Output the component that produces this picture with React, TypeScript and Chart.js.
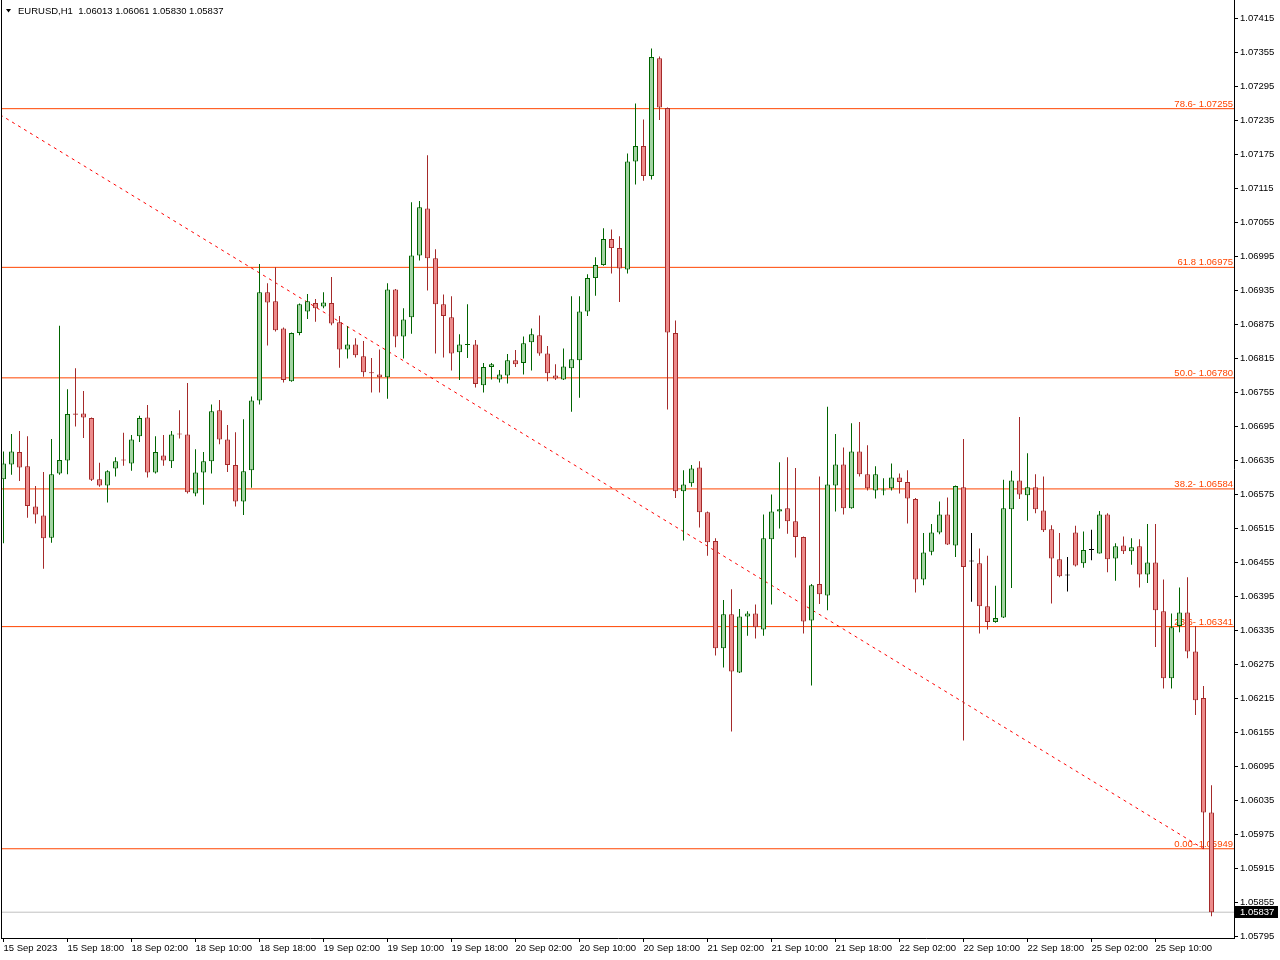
import React, { useEffect, useRef } from 'react';
import { Chart, registerables } from 'chart.js';

Chart.register(...registerables);

const symbol = 'EURUSD,H1';

const opens = [
  1.06601,1.06627,1.06649,1.06624,1.06553,1.06537,1.06498,1.06611,1.06634,1.06717,
  1.06717,1.06709,1.06601,1.06590,1.06620,1.06636,1.06629,1.06677,1.06710,1.06613,
  1.06643,1.06633,1.06681,1.06680,1.06576,1.06613,1.06633,1.06723,1.06671,1.06626,
  1.06562,1.06617,1.06740,1.06931,1.06915,1.06867,1.06774,1.06859,1.06897,1.06912,
  1.06906,1.06912,1.06878,1.06830,1.06839,1.06818,1.06790,1.06786,1.06781,1.06936,
  1.06853,1.06887,1.06996,1.07079,1.06991,1.06910,1.06887,1.06825,1.06838,1.06839,
  1.06767,1.06799,1.06777,1.06784,1.06811,1.06806,1.06843,1.06855,1.06823,1.06784,
  1.06777,1.06797,1.06811,1.06897,1.06956,1.06979,1.07025,1.07009,1.06971,1.07162,
  1.07189,1.07136,1.07344,1.07256,1.06859,1.06580,1.06594,1.06622,1.06543,1.06492,
  1.06303,1.06363,1.06260,1.06359,1.06364,1.06336,1.06495,1.06544,1.06550,1.06527,
  1.06499,1.06352,1.06416,1.06396,1.06590,1.06627,1.06550,1.06650,1.06610,1.06581,
  1.06581,1.06585,1.06604,1.06596,1.06566,1.06424,1.06473,1.06507,1.06539,1.06484,
  1.06587,1.06456,1.06453,1.06377,1.06349,1.06357,1.06548,1.06599,1.06573,1.06587,
  1.06546,1.06513,1.06460,1.06431,1.06507,1.06453,1.06476,1.06470,1.06539,1.06461,
  1.06484,1.06474,1.06483,1.06433,1.06454,1.06368,1.06250,1.06342,1.06366,1.06297,
  1.06215,1.06013,
];

const highs = [
  1.06650,1.06681,1.06686,1.06677,1.06589,1.06614,1.06672,1.06872,1.06760,1.06797,
  1.06757,1.06710,1.06630,1.06617,1.06640,1.06683,1.06679,1.06713,1.06732,1.06677,
  1.06679,1.06686,1.06723,1.06771,1.06654,1.06649,1.06733,1.06741,1.06697,1.06684,
  1.06707,1.06747,1.06981,1.06947,1.06975,1.06869,1.06860,1.06911,1.06928,1.06919,
  1.06931,1.06958,1.06889,1.06871,1.06850,1.06845,1.06815,1.06830,1.06947,1.06937,
  1.06903,1.07090,1.07092,1.07173,1.07007,1.06927,1.06924,1.06857,1.06910,1.06847,
  1.06806,1.06806,1.06794,1.06822,1.06829,1.06853,1.06867,1.06890,1.06836,1.06804,
  1.06832,1.06924,1.06924,1.06963,1.06993,1.07044,1.07042,1.07030,1.07176,1.07264,
  1.07236,1.07361,1.07347,1.07257,1.06881,1.06617,1.06626,1.06633,1.06544,1.06497,
  1.06388,1.06407,1.06372,1.06368,1.06380,1.06539,1.06574,1.06631,1.06640,1.06621,
  1.06500,1.06416,1.06606,1.06729,1.06681,1.06657,1.06700,1.06702,1.06661,1.06624,
  1.06603,1.06629,1.06611,1.06617,1.06568,1.06506,1.06522,1.06562,1.06569,1.06590,
  1.06672,1.06506,1.06479,1.06466,1.06413,1.06600,1.06616,1.06711,1.06647,1.06610,
  1.06606,1.06520,1.06506,1.06464,1.06519,1.06509,1.06512,1.06545,1.06541,1.06488,
  1.06500,1.06497,1.06495,1.06522,1.06522,1.06424,1.06364,1.06410,1.06428,1.06342,
  1.06236,1.06061,
];

const lows = [
  1.06488,1.06609,1.06598,1.06533,1.06523,1.06443,1.06489,1.06609,1.06610,1.06694,
  1.06674,1.06598,1.06588,1.06560,1.06606,1.06625,1.06616,1.06667,1.06604,1.06611,
  1.06625,1.06621,1.06673,1.06576,1.06571,1.06556,1.06611,1.06663,1.06614,1.06553,
  1.06538,1.06586,1.06733,1.06837,1.06862,1.06772,1.06773,1.06855,1.06884,1.06879,
  1.06903,1.06873,1.06798,1.06814,1.06816,1.06782,1.06754,1.06754,1.06743,1.06834,
  1.06814,1.06858,1.06987,1.06934,1.06823,1.06816,1.06793,1.06776,1.06815,1.06763,
  1.06754,1.06777,1.06772,1.06770,1.06799,1.06786,1.06793,1.06819,1.06774,1.06776,
  1.06776,1.06720,1.06745,1.06889,1.06925,1.06978,1.06964,1.06914,1.06964,1.07121,
  1.07128,1.07130,1.07235,1.06724,1.06568,1.06493,1.06588,1.06516,1.06466,1.06290,
  1.06269,1.06156,1.06259,1.06325,1.06320,1.06325,1.06380,1.06514,1.06505,1.06463,
  1.06329,1.06237,1.06381,1.06370,1.06544,1.06539,1.06549,1.06606,1.06581,1.06567,
  1.06573,1.06581,1.06576,1.06523,1.06401,1.06414,1.06467,1.06504,1.06485,1.06464,
  1.06140,1.06385,1.06329,1.06336,1.06348,1.06356,1.06409,1.06566,1.06528,1.06541,
  1.06508,1.06382,1.06428,1.06403,1.06447,1.06445,1.06458,1.06470,1.06437,1.06422,
  1.06469,1.06450,1.06410,1.06418,1.06305,1.06232,1.06232,1.06331,1.06285,1.06185,
  1.05949,1.05830,
];

const closes = [
  1.06629,1.06650,1.06622,1.06554,1.06539,1.06497,1.06610,1.06635,1.06716,1.06715,
  1.06710,1.06600,1.06590,1.06615,1.06633,1.06634,1.06671,1.06709,1.06613,1.06649,
  1.06634,1.06680,1.06680,1.06578,1.06613,1.06633,1.06721,1.06671,1.06626,1.06562,
  1.06615,1.06740,1.06931,1.06913,1.06864,1.06776,1.06859,1.06910,1.06915,1.06903,
  1.06913,1.06876,1.06830,1.06839,1.06820,1.06790,1.06788,1.06781,1.06936,1.06853,
  1.06883,1.06996,1.07081,1.06991,1.06910,1.06889,1.06823,1.06839,1.06839,1.06769,
  1.06799,1.06804,1.06786,1.06811,1.06804,1.06841,1.06857,1.06823,1.06788,1.06779,
  1.06800,1.06813,1.06897,1.06956,1.06979,1.07025,1.07009,1.06973,1.07162,1.07189,
  1.07136,1.07346,1.07257,1.06860,1.06580,1.06592,1.06620,1.06543,1.06490,1.06303,
  1.06363,1.06262,1.06359,1.06364,1.06340,1.06497,1.06544,1.06548,1.06527,1.06499,
  1.06350,1.06414,1.06398,1.06592,1.06627,1.06550,1.06650,1.06610,1.06585,1.06610,
  1.06583,1.06604,1.06596,1.06567,1.06424,1.06472,1.06507,1.06539,1.06486,1.06589,
  1.06446,1.06456,1.06377,1.06349,1.06356,1.06550,1.06599,1.06574,1.06587,1.06548,
  1.06511,1.06461,1.06430,1.06431,1.06449,1.06476,1.06476,1.06539,1.06460,1.06483,
  1.06474,1.06481,1.06433,1.06454,1.06370,1.06250,1.06340,1.06366,1.06297,1.06211,
  1.06013,1.05837,
];

const timeTickBars = [0, 8, 16, 24, 32, 40, 48, 56, 64, 72, 80, 88, 96, 104, 112, 120, 128, 136, 144];
const timeTickLabels = [
  '15 Sep 2023', '15 Sep 18:00', '18 Sep 02:00', '18 Sep 10:00', '18 Sep 18:00',
  '19 Sep 02:00', '19 Sep 10:00', '19 Sep 18:00', '20 Sep 02:00', '20 Sep 10:00',
  '20 Sep 18:00', '21 Sep 02:00', '21 Sep 10:00', '21 Sep 18:00', '22 Sep 02:00',
  '22 Sep 10:00', '22 Sep 18:00', '25 Sep 02:00', '25 Sep 10:00',
];

const priceTicks = [
  1.07415, 1.07355, 1.07295, 1.07235, 1.07175, 1.07115, 1.07055, 1.06995, 1.06935, 1.06875,
  1.06815, 1.06755, 1.06695, 1.06635, 1.06575, 1.06515, 1.06455, 1.06395, 1.06335, 1.06275,
  1.06215, 1.06155, 1.06095, 1.06035, 1.05975, 1.05915, 1.05855, 1.05795,
];

const fibPrices = [1.07255, 1.06975, 1.0678, 1.06584, 1.06341, 1.05949];
const fibTexts = ['78.6- 1.07255', '61.8 1.06975', '50.0- 1.06780', '38.2- 1.06584', '23.6- 1.06341', '0.00- 1.05949'];

const trendBars = [-43, 150];
const trendPrices = [1.07611, 1.05949];

const X_MIN = -0.1875;
const X_MAX = 153.8125;
const Y_MIN = 1.057915;
const Y_MAX = 1.074468;

const BULL_FILL = '#A3D3A3';
const BULL_LINE = '#006400';
const BEAR_FILL = '#EC8B8B';
const BEAR_LINE = '#A52A2A';
const FIB_COLOR = '#FF4500';
const FONT = '"Liberation Sans", Arial, sans-serif';
const FONT_SIZE = 9.5;

const overlayPlugin = {
  id: 'mt4overlay',
  beforeDatasetsDraw(chart: any) {
    const { ctx, chartArea, scales } = chart;
    ctx.save();
    ctx.font = `${FONT_SIZE}px ${FONT}`;
    ctx.fillStyle = FIB_COLOR;
    ctx.textAlign = 'right';
    ctx.textBaseline = 'alphabetic';
    fibPrices.forEach((p, i) => {
      const y = scales.y.getPixelForValue(p);
      ctx.fillText(fibTexts[i], chartArea.right - 1, Math.round(y) - 2);
    });
    ctx.restore();
  },
  afterDraw(chart: any) {
    const { ctx, chartArea, scales } = chart;
    ctx.save();
    ctx.fillStyle = '#000';
    ctx.fillRect(chartArea.left - 1, 0, 1, chartArea.bottom + 1);
    ctx.beginPath();
    ctx.moveTo(6, 9);
    ctx.lineTo(11, 9);
    ctx.lineTo(8.5, 12.5);
    ctx.closePath();
    ctx.fill();
    const n = opens.length - 1;
    const head = `${symbol}  ${opens[n].toFixed(5)} ${highs[n].toFixed(5)} ${lows[n].toFixed(5)} ${closes[n].toFixed(5)}`;
    ctx.font = `${FONT_SIZE}px ${FONT}`;
    ctx.textAlign = 'left';
    ctx.textBaseline = 'alphabetic';
    ctx.fillText(head, 18, 14);
    const y = Math.round(scales.y.getPixelForValue(closes[n]));
    ctx.fillStyle = '#000';
    ctx.fillRect(chartArea.right + 1, y - 6, 43, 12);
    ctx.fillStyle = '#fff';
    ctx.textBaseline = 'middle';
    ctx.fillText(closes[n].toFixed(5), chartArea.right + 6, y);
    ctx.restore();
  },
};

export default function App() {
  const ref = useRef<HTMLCanvasElement>(null);

  useEffect(() => {
    const idx = opens.map((_, i) => i);
    const kind = idx.map((i) => (closes[i] > opens[i] ? 1 : closes[i] < opens[i] ? -1 : 0));
    const fill = kind.map((k) => (k > 0 ? BULL_FILL : k < 0 ? BEAR_FILL : '#000'));
    const line = kind.map((k) => (k > 0 ? BULL_LINE : k < 0 ? BEAR_LINE : '#000'));
    const last = closes[closes.length - 1];

    const datasets: any[] = [
      {
        type: 'bar',
        label: 'body',
        data: idx.map((i) => ({ x: i, y: [opens[i], closes[i]] })),
        backgroundColor: fill,
        borderColor: line,
        borderWidth: 1,
        borderSkipped: false,
        barThickness: 5,
        minBarLength: 1,
        inflateAmount: 0,
        grouped: false,
        order: 0,
        clip: 0,
      },
      {
        type: 'bar',
        label: 'wick',
        data: idx.map((i) => ({ x: i, y: [lows[i], highs[i]] })),
        backgroundColor: line,
        borderWidth: 0,
        barThickness: 1,
        minBarLength: 1,
        inflateAmount: 0,
        grouped: false,
        order: 1,
        clip: 0,
      },
      {
        type: 'line',
        label: 'trend',
        data: trendBars.map((b, i) => ({ x: b, y: trendPrices[i] })),
        borderColor: '#FF0000',
        borderWidth: 1,
        borderDash: [3, 4],
        pointRadius: 0,
        tension: 0,
        order: 4,
        clip: 0,
      },
      ...fibPrices.map((p, i) => ({
        type: 'line',
        label: 'fib' + i,
        data: [{ x: X_MIN, y: p }, { x: X_MAX, y: p }],
        borderColor: FIB_COLOR,
        borderWidth: 1,
        pointRadius: 0,
        tension: 0,
        order: 5,
        clip: 0,
      })),
      {
        type: 'line',
        label: 'last',
        data: [{ x: X_MIN, y: last }, { x: X_MAX, y: last }],
        borderColor: '#C0C0C0',
        borderWidth: 1,
        pointRadius: 0,
        tension: 0,
        order: 6,
        clip: 0,
      },
    ];

    const chart = new Chart(ref.current as HTMLCanvasElement, {
      type: 'bar',
      data: { datasets },
      options: {
        responsive: false,
        animation: false,
        devicePixelRatio: 1,
        layout: { padding: { left: 2, top: 0, right: 0, bottom: 0 } },
        plugins: { legend: { display: false }, tooltip: { enabled: false } },
        scales: {
          x: {
            type: 'linear',
            min: X_MIN,
            max: X_MAX,
            offset: false,
            grid: { display: true, drawOnChartArea: false, drawTicks: true, tickLength: 4, color: '#000', offset: false },
            border: { display: true, color: '#000', width: 1 },
            ticks: {
              autoSkip: false,
              maxRotation: 0,
              minRotation: 0,
              align: 'start',
              padding: 1,
              color: '#000',
              font: { family: FONT, size: FONT_SIZE },
              callback: (v: any) => {
                const k = timeTickBars.indexOf(Number(v));
                return k >= 0 ? timeTickLabels[k] : '';
              },
            },
            afterBuildTicks: (s: any) => {
              s.ticks = timeTickBars.map((v) => ({ value: v }));
            },
            afterFit: (s: any) => {
              s.height = 22;
              s.paddingLeft = 0;
              s.paddingRight = 0;
            },
          },
          y: {
            type: 'linear',
            position: 'right',
            min: Y_MIN,
            max: Y_MAX,
            grid: { display: true, drawOnChartArea: false, drawTicks: true, tickLength: 4, color: '#000' },
            border: { display: true, color: '#000', width: 1 },
            ticks: {
              autoSkip: false,
              padding: 2,
              color: '#000',
              font: { family: FONT, size: FONT_SIZE },
              callback: (v: any) => Number(v).toFixed(5),
            },
            afterBuildTicks: (s: any) => {
              s.ticks = priceTicks.map((v) => ({ value: v }));
            },
            afterFit: (s: any) => {
              s.width = 46;
              s.paddingTop = 0;
              s.paddingBottom = 0;
            },
          },
        },
      } as any,
      plugins: [overlayPlugin],
    });
    return () => chart.destroy();
  }, []);

  return (
    <div style={{ position: 'fixed', left: 0, top: 0, width: 1280, height: 960, background: '#fff' }}>
      <canvas ref={ref} width={1280} height={960} style={{ display: 'block', width: 1280, height: 960 }} />
    </div>
  );
}
